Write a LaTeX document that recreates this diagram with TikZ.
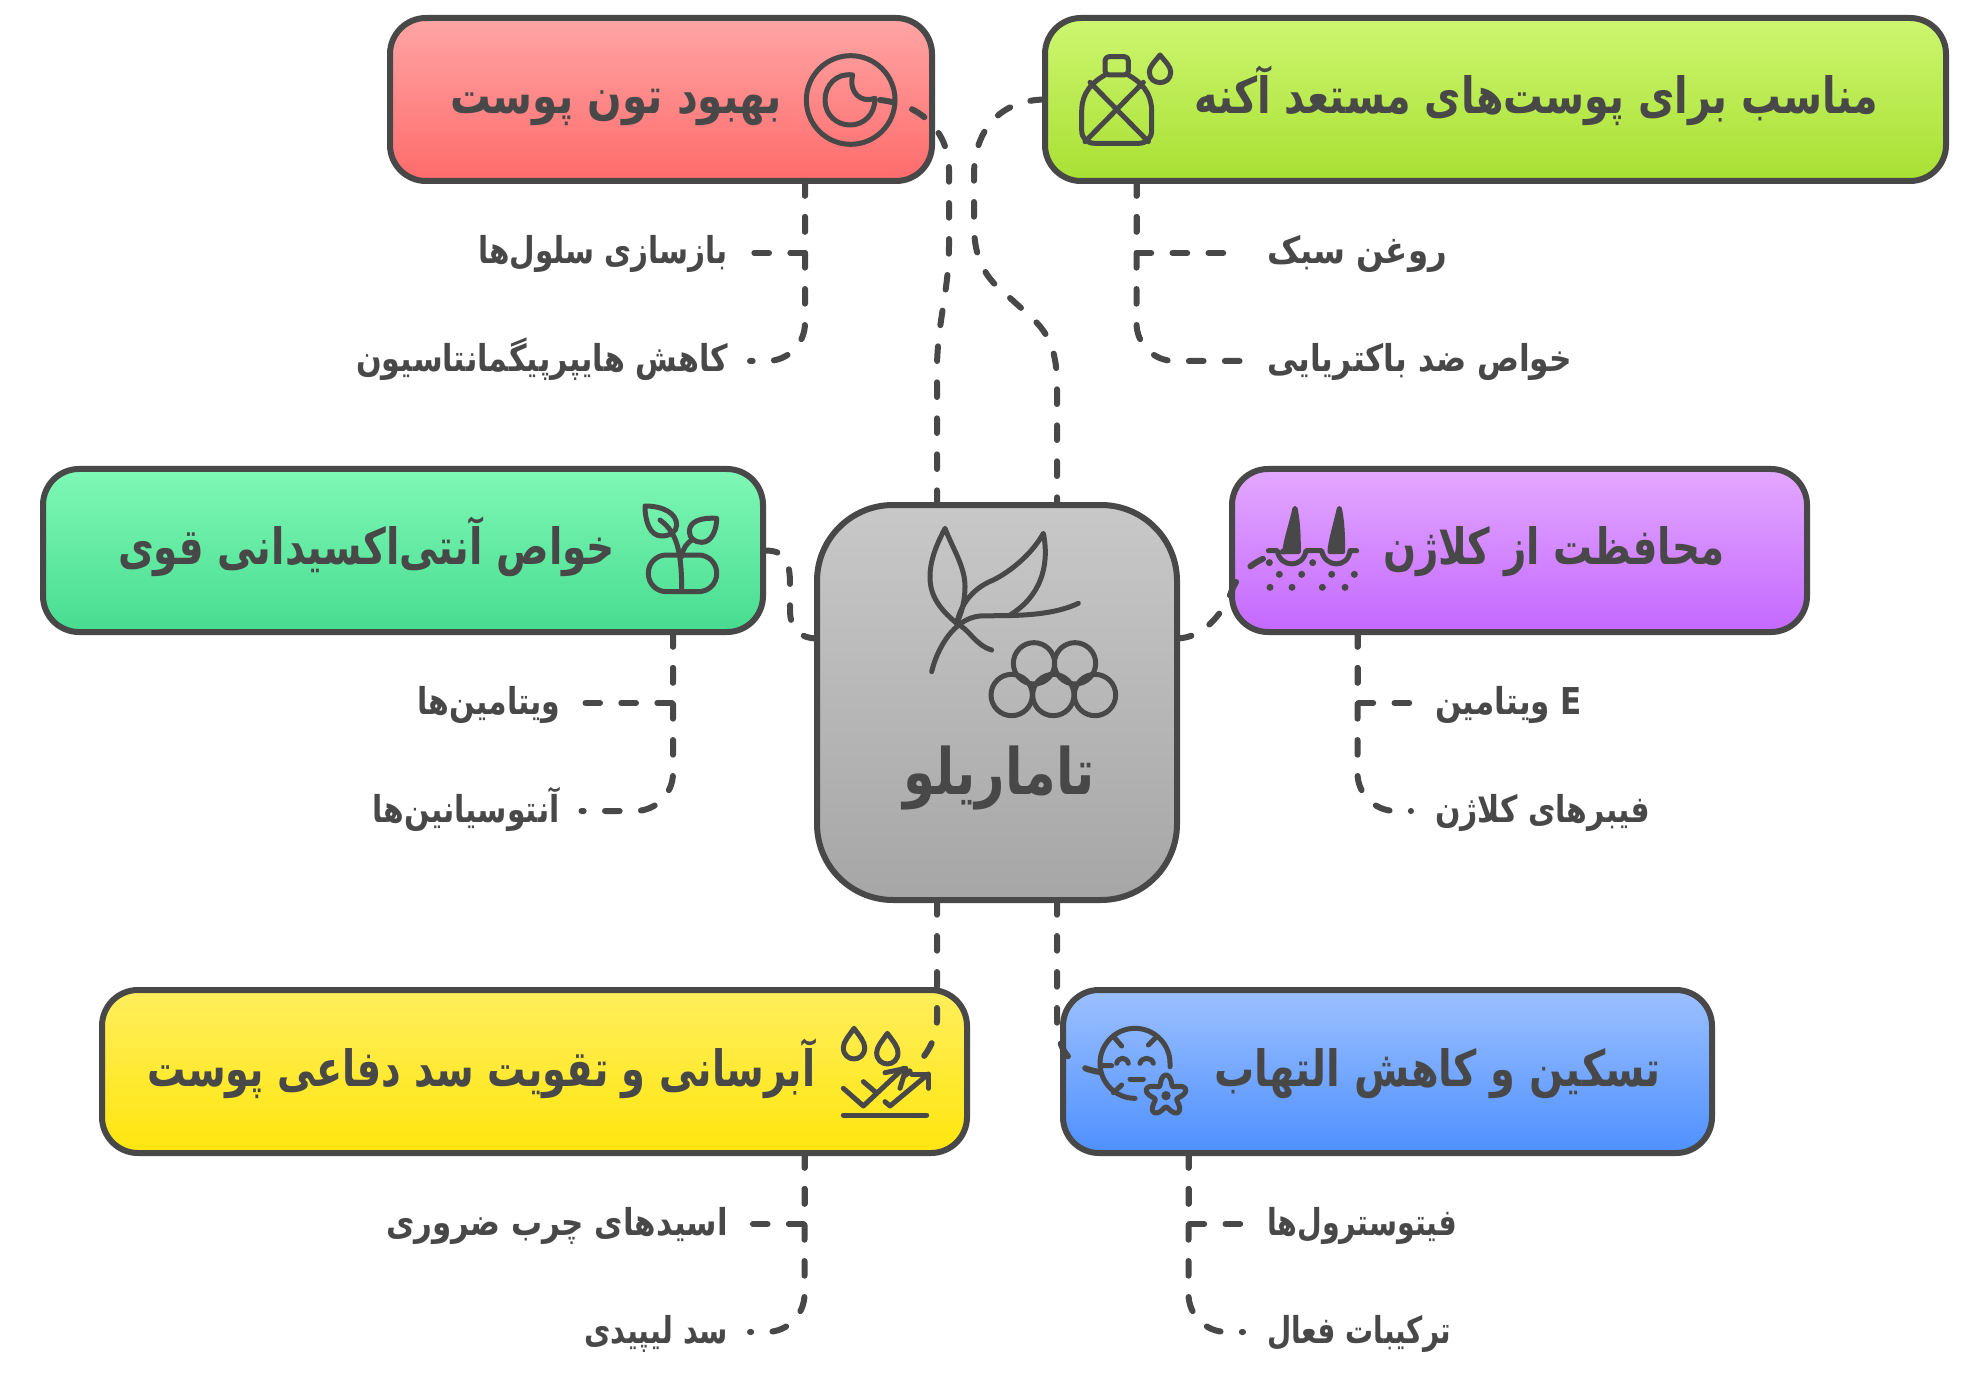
\documentclass[tikz,border=0pt]{standalone}
\usepackage{fontspec}
\newfontfamily\arhead[Script=Arabic]{DejaVu Sans Bold}
\TeXXeTstate=1
\definecolor{ink}{HTML}{484848}
\definecolor{redt}{HTML}{FFA5A5}\definecolor{redb}{HTML}{FF6B6B}
\definecolor{limt}{HTML}{CDF670}\definecolor{limb}{HTML}{A8E032}
\definecolor{emet}{HTML}{7FF8B5}\definecolor{emeb}{HTML}{47DC90}
\definecolor{purt}{HTML}{E3A8FF}\definecolor{purb}{HTML}{C468FF}
\definecolor{grat}{HTML}{C8C8C8}\definecolor{grab}{HTML}{A6A6A6}
\definecolor{yelt}{HTML}{FFEE5C}\definecolor{yelb}{HTML}{FFE60E}
\definecolor{blut}{HTML}{9CC0FF}\definecolor{blub}{HTML}{4E90FF}
\newsavebox\fitbox
\newcommand\fitw[2]{\sbox\fitbox{#2}\pgfmathsetmacro\fitr{#1/2/(\the\wd\fitbox)}\scalebox{\fitr}[1]{\usebox\fitbox}}
\tikzset{
  boxnode/.style={draw=ink,line width=3pt,rounded corners=18pt,minimum height=81.5pt,inner sep=0pt,outer sep=0pt,rectangle},
  conn/.style={draw=ink,line width=3pt,line cap=round,dash pattern=on 7.35pt off 10.65pt},
  subconn/.style={conn},
  subcurve/.style={conn,rounded corners=19pt},
  icon/.style={draw=ink,line width=2.5pt,line cap=round,line join=round},
  lab/.style={inner sep=0pt,outer sep=0pt,text=ink,text height=14pt,text depth=3pt,font=\arhead\fontsize{18.5}{22}\selectfont},
  ttl/.style={inner sep=0pt,outer sep=0pt,text=ink,text height=20pt,text depth=6pt,font=\arhead\fontsize{25}{30}\selectfont},
  izoom/.style={shift={(#1)},x=.16667pt,y=-.16667pt},
}
\newcommand\fa[1]{\beginR #1\endR}
\begin{document}
\begin{tikzpicture}[x=.5pt,y=-.5pt]
\useasboundingbox (0,0) rectangle (1965,1385);
\fill[white] (0,0) rectangle (1965,1385);
% boxes
\node[boxnode,top color=redt,bottom color=redb,minimum width=271pt] (redbox) at (661,99.5) {};
\node[boxnode,top color=limt,bottom color=limb,minimum width=450.5pt] (limebox) at (1495.5,99.5) {};
\node[boxnode,top color=emet,bottom color=emeb,minimum width=360pt] (emebox) at (403,550.5) {};
\node[boxnode,top color=purt,bottom color=purb,minimum width=287.5pt] (purbox) at (1519.5,550.5) {};
\node[boxnode,top color=yelt,bottom color=yelb,minimum width=432.5pt] (yelbox) at (534.5,1071.5) {};
\node[boxnode,top color=blut,bottom color=blub,minimum width=324.5pt] (blubox) at (1387.5,1071.5) {};
\node[boxnode,top color=grat,bottom color=grab,minimum width=180pt,minimum height=197.5pt,rounded corners=38pt] (center) at (997,702.5) {};
% titles
\node[ttl] (t1) at (616,100) {\fitw{332}{\fa{بهبود تون پوست}}};
\node[ttl] (t2) at (1536,100) {\fitw{684}{\fa{مناسب برای پوست‌های مستعد آکنه}}};
\node[ttl] (t3) at (366.5,550) {\fitw{497}{\fa{خواص آنتی‌اکسیدانی قوی}}};
\node[ttl] (t4) at (1553.5,550) {\fitw{341}{\fa{محافظت از کلاژن}}};
\node[ttl] (t5) at (481.5,1072) {\fitw{668}{\fa{آبرسانی و تقویت سد دفاعی پوست}}};
\node[ttl] (t6) at (1437.5,1072) {\fitw{447}{\fa{تسکین و کاهش التهاب}}};
\node[inner sep=0pt,text=ink,text height=20pt,text depth=10pt,font=\arhead\fontsize{32}{38}\selectfont] (t0) at (999,784) {\fitw{191}{\fa{تاماریلو}}};
% labels
\node[lab] (a1) at (603,253) {\fitw{250}{\fa{بازسازی سلول‌ها}}};
\node[lab] (a2) at (542,361) {\fitw{372}{\fa{کاهش هایپرپیگمانتاسیون}}};
\node[lab] (b1) at (1357,253) {\fitw{180}{\fa{روغن سبک}}};
\node[lab] (b2) at (1419.5,361) {\fitw{305}{\fa{خواص ضد باکتریایی}}};
\node[lab] (c1) at (489,703) {\fitw{143}{\fa{ویتامین‌ها}}};
\node[lab] (c2) at (466,811) {\fitw{187}{\fa{آنتوسیانین‌ها}}};
\node[lab] (d1) at (1508.5,703) {\fitw{147}{\fa{ویتامین}\ E}};
\node[lab] (d2) at (1542.5,811) {\fitw{215}{\fa{فیبرهای کلاژن}}};
\node[lab] (e1) at (557,1224) {\fitw{342}{\fa{اسیدهای چرب ضروری}}};
\node[lab] (e2) at (656,1332) {\fitw{144}{\fa{سد لیپیدی}}};
\node[lab] (f1) at (1362,1224) {\fitw{190}{\fa{فیتوسترول‌ها}}};
\node[lab] (f2) at (1359,1332) {\fitw{184}{\fa{ترکیبات فعال}}};
% icons
\begin{scope}[izoom={780,480}]
 \draw[icon] (530,430) .. controls (470,380) and (450,340) .. (450,290) .. controls (450,230) and (480,175) .. (495,145) .. controls (520,210) and (555,260) .. (555,320) .. controls (555,360) and (545,400) .. (530,430) .. controls (570,450) and (585,495) .. (635,510);
 \draw[icon] (530,430) .. controls (545,360) and (590,320) .. (640,300) .. controls (700,270) and (760,215) .. (790,160) .. controls (810,260) and (780,350) .. (690,405);
 \draw[icon] (895,370) .. controls (800,415) and (660,405) .. (600,408) .. controls (520,415) and (470,510) .. (455,575);
 \foreach \p in {(762,550),(885,550),(695,645),(820,645),(945,645)} \draw[icon] \p circle (62);
\end{scope}
\begin{scope}[izoom={780,0}]
 \draw[icon,rounded corners=2pt] (975,225) -- (975,170) -- (1045,170) -- (1045,225) -- cycle;
 \draw[icon] (975,225) .. controls (940,245) and (905,275) .. (905,335) -- (905,390) .. controls (905,415) and (920,430) .. (945,430) -- (1075,430) .. controls (1100,430) and (1115,415) .. (1115,390) -- (1115,335) .. controls (1115,275) and (1080,245) .. (1045,225);
 \draw[icon] (930,247) -- (1105,425) (1090,247) -- (915,425);
 \draw[icon] (1140,165) .. controls (1120,190) and (1108,200) .. (1108,217) .. controls (1108,258) and (1172,258) .. (1172,217) .. controls (1172,200) and (1160,190) .. (1140,165) -- cycle;
 \draw[icon] (212,300) circle (133);
 \draw[icon] (218,225) .. controls (170,218) and (135,255) .. (135,300) .. controls (135,345) and (170,375) .. (210,375) .. controls (250,375) and (285,345) .. (285,295) .. controls (245,310) and (205,280) .. (218,225) -- cycle;
\end{scope}
\begin{scope}[izoom={620,480}]
 \draw[icon] (75,78) .. controls (130,78) and (170,100) .. (170,135) .. controls (170,155) and (150,168) .. (125,168) .. controls (90,168) and (75,125) .. (75,78) -- cycle;
 \draw[icon] (120,120) .. controls (160,150) and (185,190) .. (185,325);
 \draw[icon] (290,115) .. controls (240,112) and (208,125) .. (208,155) .. controls (208,175) and (225,187) .. (245,187) .. controls (275,187) and (290,150) .. (290,115) -- cycle;
 \draw[icon] (218,178) .. controls (200,190) and (188,205) .. (185,230);
 \draw[icon,rounded corners=9pt] (85,225) rectangle (290,335);
\end{scope}
\begin{scope}[izoom={1220,480}]
 \draw[icon,fill=ink] (225,85) .. controls (215,130) and (195,190) .. (195,215) -- (235,215) .. controls (235,190) and (235,130) .. (225,85) -- cycle;
 \draw[icon,fill=ink] (358,85) .. controls (348,130) and (330,190) .. (330,215) -- (368,215) .. controls (368,190) and (368,130) .. (358,85) -- cycle;
 \draw[icon] (145,212) -- (172,212) .. controls (180,265) and (250,265) .. (258,212) -- (305,212) .. controls (315,265) and (385,265) .. (390,212) -- (410,212);
 \foreach \p in {(148,248),(278,248),(178,283),(245,283),(335,283),(403,283),(150,322),(216,322),(307,322),(375,322)} \fill[ink] \p circle (10.5);
\end{scope}
\begin{scope}[izoom={800,1000}]
 \draw[icon] (162,85) .. controls (145,110) and (130,125) .. (130,143) .. controls (130,188) and (194,188) .. (194,143) .. controls (194,125) and (180,110) .. (162,85) -- cycle;
 \draw[icon] (262,100) .. controls (245,125) and (230,140) .. (230,158) .. controls (230,203) and (294,203) .. (294,158) .. controls (294,140) and (280,125) .. (262,100) -- cycle;
 \draw[icon] (130,265) -- (190,318) -- (310,205);
 \draw[icon] (190,245) -- (225,275);
 \draw[icon] (255,218) -- (318,205) -- (300,265);
 \draw[icon] (255,305) -- (270,318) -- (385,222);
 \draw[icon] (335,222) -- (385,222) -- (385,265);
 \draw[icon] (130,345) -- (380,345);
 \draw[icon] (1110,200) -- (1110,190) arc (0:-270:105);
 \draw[icon] (945,115) -- (965,138) (1045,135) -- (1065,115) (905,197) -- (935,197) (940,278) -- (965,255);
 \draw[icon] (950,190) .. controls (955,170) and (980,170) .. (985,190);
 \draw[icon] (1020,190) .. controls (1025,170) and (1055,170) .. (1060,190);
 \draw[icon] (990,237) -- (1030,237);
 \draw[icon,fill=none] plot[domain=0:360,samples=80,smooth cycle] ({1098+(48+14*cos(5*\x+90))*cos(\x)},{287+(48+14*cos(5*\x+90))*sin(\x)});
 \fill[ink] (1098,287) circle (14);
\end{scope}
% main connectors
\coordinate (redend) at (880,100);
\coordinate (purend) at (1295,549);
\coordinate (yelend) at (905,1075);
\coordinate (bluend) at (1112,1073);
\draw[conn] ([xshift=-30pt]center.north) -- (937,365) .. controls (938,320) and (949,290) .. (949,245) -- (949,170) .. controls (949,135) and (925,105) .. (redend);
\draw[conn] (limebox.west) .. controls (1000,100) and (974,130) .. (974,175) -- (974,225) .. controls (974,265) and (990,282) .. (1010,298) -- (1030,316) .. controls (1045,330) and (1057,345) .. (1057,385) -- ([xshift=30pt]center.north);
\draw[conn] (emebox.east) .. controls (785,550) and (790,560) .. (790,585) -- (790,610) .. controls (790,630) and (800,638) .. ([yshift=32pt]center.west);
\draw[conn] ([yshift=32pt]center.east) .. controls (1205,638) and (1225,610) .. (1232,590) .. controls (1240,570) and (1260,555) .. (purend);
\draw[conn] ([xshift=-30pt]center.south) -- (937,1020) .. controls (937,1040) and (925,1060) .. (yelend);
\draw[conn] ([xshift=30pt]center.south) -- (1057,1020) .. controls (1057,1055) and (1075,1072) .. (bluend);
% sub connectors
\draw[subconn] ([xshift=72pt]redbox.south) |- ([xshift=12.5pt]a1.east);
\draw[subcurve] ([xshift=72pt]redbox.south) |- ([xshift=11pt]a2.east);
\draw[subconn] ([xshift=-179.5pt]limebox.south) |- ([xshift=-12pt]b1.west);
\draw[subcurve] ([xshift=-179.5pt]limebox.south) |- ([xshift=-12pt]b2.west);
\draw[subconn] ([xshift=135pt]emebox.south) |- ([xshift=12.5pt]c1.east);
\draw[subcurve] ([xshift=135pt]emebox.south) |- ([xshift=11pt]c2.east);
\draw[subconn] ([xshift=-81pt]purbox.south) |- ([xshift=-12pt]d1.west);
\draw[subcurve] ([xshift=-81pt]purbox.south) |- ([xshift=-12pt]d2.west);
\draw[subconn] ([xshift=135pt]yelbox.south) |- ([xshift=12.5pt]e1.east);
\draw[subcurve] ([xshift=135pt]yelbox.south) |- ([xshift=11pt]e2.east);
\draw[subconn] ([xshift=-99.5pt]blubox.south) |- ([xshift=-12pt]f1.west);
\draw[subcurve] ([xshift=-99.5pt]blubox.south) |- ([xshift=-12pt]f2.west);
\end{tikzpicture}
\end{document}
